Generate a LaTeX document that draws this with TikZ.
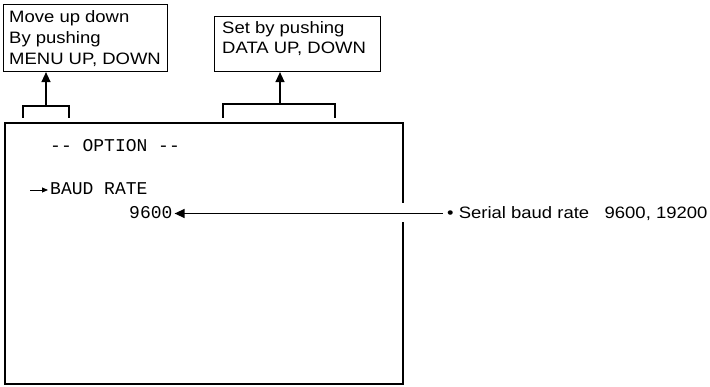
\documentclass[tikz,border=0pt]{standalone}
\usepackage{fontspec}
\usetikzlibrary{arrows.meta}
\newfontfamily\labfont{Liberation Sans}[FakeStretch=1.12]
\newfontfamily\monofont{Liberation Mono}
\begin{document}
\begin{tikzpicture}[x=1pt,y=-1pt,
  lab/.style={font=\labfont\fontsize{16.5}{20}\selectfont, inner sep=0pt, anchor=base west},
  scr/.style={font=\monofont\fontsize{18}{20}\selectfont, inner sep=0pt, anchor=base west},
  box/.style={draw, line width=1.1pt, anchor=north west, inner sep=0pt},
  conn/.style={line width=1.3pt},
  up/.style={line width=1.3pt, -{Triangle[length=10pt,width=9pt]}},
]
\useasboundingbox (0,0) rectangle (710,387);
% callout boxes
\node[box, minimum width=164pt, minimum height=67pt] (lbox) at (3,4) {};
\node[lab] (l1) at (9,23) {Move up down};
\node[lab] (l2) at (9,44) {By pushing};
\node[lab] (l3) at (9,65) {MENU UP, DOWN};
\node[box, minimum width=166pt, minimum height=55pt] (rbox) at (214,16) {};
\node[lab] (r1) at (222,33.5) {Set by pushing};
\node[lab] (r2) at (222,53.5) {DATA UP, DOWN};
% brackets
\coordinate (la) at (23,118); \coordinate (lb) at (69,118);
\coordinate (lm) at (46,106);
\draw[conn] (la) -- (23,106) -- (69,106) -- (lb);
\draw[up] (lm) -- (lm |- lbox.south);
\coordinate (ra) at (223,118); \coordinate (rb) at (335,118);
\coordinate (rm) at (280,104);
\draw[conn] (ra) -- (223,104) -- (335,104) -- (rb);
\draw[up] (rm) -- (rm |- rbox.south);
% screen frame
\node[draw, line width=1.8pt, anchor=north west, minimum width=398pt, minimum height=261pt, inner sep=0pt] (frame) at (4,122) {};
\node[scr] (opt) at (50,152) {-- OPTION --};
\coordinate (ca) at (30,190); \coordinate (cb) at (48,190);
\draw[line width=0.9pt, -{Triangle[length=6pt,width=5pt]}] (ca) -- (cb);
\node[scr] (baud) at (50,195) {BAUD RATE};
\node[scr] (val) at (129,219) {9600};
% callout line
\node[lab, anchor=west] (note) at (447,213.5) {\textbullet\ Serial baud rate\ \ \ 9600, 19200};
\fill[white] (398,203) rectangle (406,222);
\draw[conn, {Triangle[length=10pt,width=9pt]}-, shorten >=4pt] (val.east |- 0,213.5) ++(2,0) coordinate (vtip) -- (note.west);
\end{tikzpicture}
\end{document}
